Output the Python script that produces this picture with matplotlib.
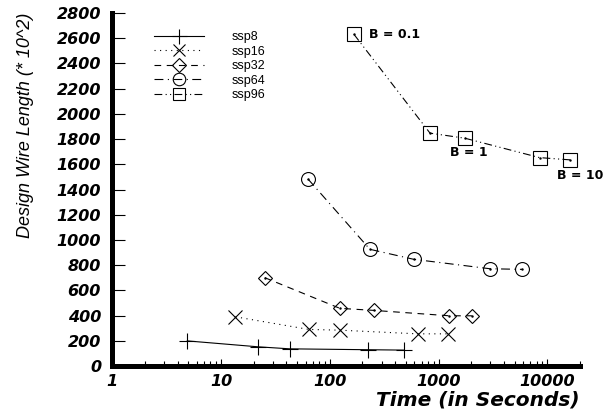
import matplotlib.pyplot as plt
from matplotlib.ticker import FixedLocator, LogLocator, NullFormatter

# values
ssp8_t = [4.9, 22, 43, 227, 478]
ssp8_w = [200, 153, 137, 130, 127]
ssp16_t = [13.6, 64, 124, 643, 1232]
ssp16_w = [391, 291, 285, 256, 256]
ssp32_t = [25.3, 124, 253, 1259, 2024]
ssp32_w = [701, 458, 442, 399, 399]
ssp64_t = [63, 234, 590, 2965, 5890]
ssp64_w = [1484, 926, 847, 772, 767]
ssp96_t = [167, 835, 1742, 8490, 16300]
ssp96_w = [2630, 1847, 1807, 1653, 1635]

b_labels = ["B = 0.1", "B = 1", "B = 10"]
b_index = [0, 2, 4]

x_ticks = [1, 10, 100, 1000, 10000]
y_ticks = list(range(0, 2801, 200))

TICKFONT = dict(family="DejaVu Sans", weight="bold", style="italic", size=11.5)


def make_fig():
    fig = plt.figure(figsize=(6.03, 4.17), dpi=100)
    ax = fig.add_axes([0.186, 0.122, 0.776, 0.847])
    return fig, ax


def plot_series(ax):
    common = dict(color="black", lw=0.8, mfc="none", mec="black", mew=0.8)
    ax.plot(ssp8_t, ssp8_w, ls="-", marker="+", ms=12, label="ssp8", **common)
    ax.plot(ssp16_t, ssp16_w, ls=(0, (1, 4)), marker="x", ms=10, label="ssp16", **common)
    ax.plot(ssp32_t, ssp32_w, ls=(0, (6, 5)), marker="D", ms=7.5, label="ssp32", **common)
    ax.plot(ssp64_t, ssp64_w, ls=(0, (8, 4, 1, 4)), marker="o", ms=10, label="ssp64", **common)
    ax.plot(ssp96_t, ssp96_w, ls=(0, (7, 3, 1, 3, 1, 3)), marker="s", ms=10, label="ssp96", **common)

    # centre dots like the original point glyphs
    for t, w in [(ssp32_t, ssp32_w), (ssp64_t, ssp64_w), (ssp96_t, ssp96_w)]:
        ax.plot(t, w, ls="none", marker=".", ms=1.5, color="black")


def add_b_labels(ax):
    offsets = [((11, 0), "left", "center"), ((3, -10), "center", "center"), ((-10, -11), "left", "center")]
    for lab, i, (off, ha, va) in zip(b_labels, b_index, offsets):
        ax.annotate(
            lab,
            xy=(ssp96_t[i], ssp96_w[i]),
            xytext=off,
            textcoords="offset points",
            ha=ha,
            va=va,
            family="DejaVu Sans",
            weight="bold",
            fontsize=9,
        )


def style_axes(ax):
    ax.set_xscale("log")
    ax.set_xlim(1, 20000)
    ax.set_ylim(0, 2800)

    ax.xaxis.set_major_locator(FixedLocator(x_ticks))
    ax.xaxis.set_minor_locator(LogLocator(base=10, subs=range(2, 10), numticks=20))
    ax.xaxis.set_minor_formatter(NullFormatter())
    ax.set_xticks(x_ticks)
    ax.set_xticklabels([str(v) for v in x_ticks], **TICKFONT)
    ax.set_yticks(y_ticks)
    ax.set_yticklabels([str(v) for v in y_ticks], **TICKFONT)

    ax.tick_params(axis="y", direction="in", length=9, width=0.8, pad=8)
    ax.tick_params(axis="x", which="major", direction="in", length=5, width=0.8, pad=6)
    ax.tick_params(axis="x", which="minor", direction="in", length=3.5, width=0.8)

    for s in ["top", "right"]:
        ax.spines[s].set_visible(False)
    for s in ["left", "bottom"]:
        ax.spines[s].set_linewidth(3.6)

    ax.set_xlabel("Time (in Seconds)", family="DejaVu Sans", weight="bold",
                  style="italic", fontsize=14.5, loc="right", labelpad=1)
    ax.set_ylabel("Design Wire Length (* 10^2)", family="Liberation Sans",
                  style="italic", fontsize=13, loc="top", labelpad=16)


fig, ax = make_fig()
plot_series(ax)
add_b_labels(ax)
style_axes(ax)

ax.legend(
    loc="upper left",
    bbox_to_anchor=(0.245, 0.94),
    bbox_transform=fig.transFigure,
    frameon=False,
    numpoints=1,
    handlelength=4,
    handletextpad=2.2,
    labelspacing=0.2,
    borderpad=0,
    markerscale=0.9,
    prop={"family": "Liberation Sans", "size": 9},
)

fig.savefig("out.png", dpi=100)
